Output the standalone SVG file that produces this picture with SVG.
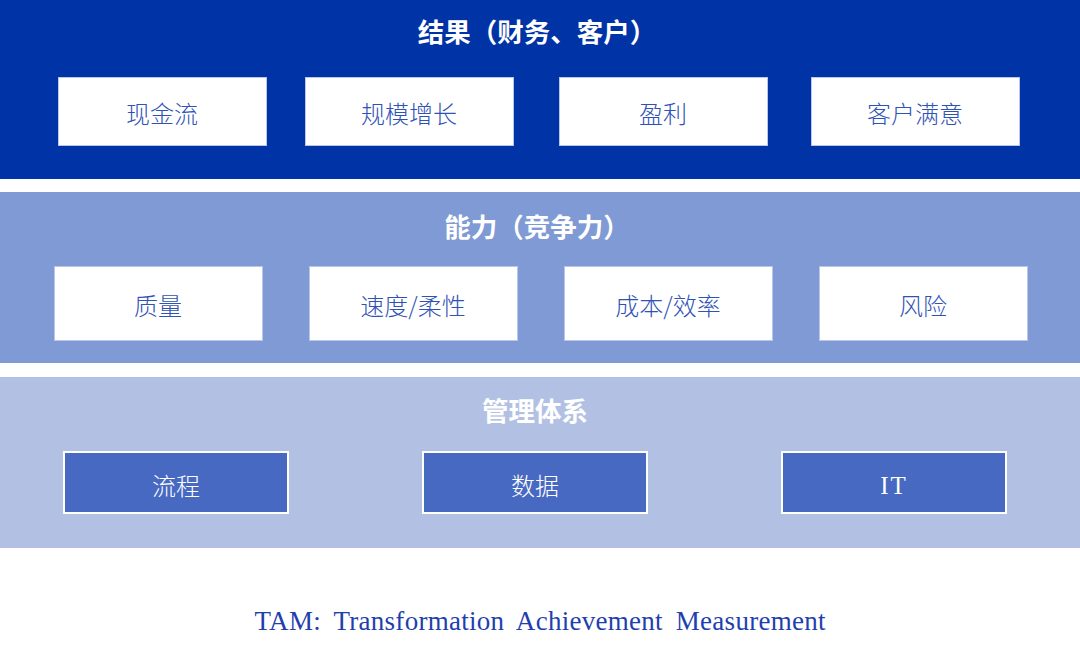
<svg xmlns="http://www.w3.org/2000/svg" width="1080" height="655" viewBox="0 0 1080 655">
<style>
.band-title{font-family:"Noto Sans CJK SC","Noto Sans",sans-serif;font-weight:bold;font-size:26.5px;fill:#ffffff;text-anchor:middle}
.wbox{fill:#ffffff;stroke:#b9c6ea;stroke-width:1}
.wtxt{font-family:"Noto Sans CJK SC","Noto Sans",sans-serif;font-weight:300;font-size:24px;fill:#2f52b5;text-anchor:middle;dominant-baseline:central}
.bbox{fill:#4769c2;stroke:#ffffff;stroke-width:2}
.btxt{font-family:"Noto Sans CJK SC","Noto Sans",sans-serif;font-weight:300;font-size:24px;fill:#ffffff;text-anchor:middle;dominant-baseline:central}
.foot{font-family:"Liberation Serif","Noto Sans CJK SC",serif;font-size:27px;fill:#1f3fae;text-anchor:middle;word-spacing:6px}
</style>
<rect width="1080" height="655" fill="#ffffff"/>
<g id="band-results">
<rect x="0" y="0" width="1080" height="179" fill="#0033a6"/>
<text class="band-title" x="537" y="42">结果（财务、客户）</text>
</g>
<g id="node-cashflow"><rect class="wbox" x="58.5" y="77.5" width="208" height="68"/><text class="wtxt" x="162" y="112">现金流</text></g>
<g id="node-growth"><rect class="wbox" x="305.5" y="77.5" width="208" height="68"/><text class="wtxt" x="409" y="112">规模增长</text></g>
<g id="node-profit"><rect class="wbox" x="559.5" y="77.5" width="208" height="68"/><text class="wtxt" x="663" y="112">盈利</text></g>
<g id="node-satisfaction"><rect class="wbox" x="811.5" y="77.5" width="208" height="68"/><text class="wtxt" x="915" y="112">客户满意</text></g>
<g id="band-capability">
<rect x="0" y="192" width="1080" height="171" fill="#7f9ad4"/>
<text class="band-title" x="537" y="237">能力（竞争力）</text>
</g>
<g id="node-quality"><rect class="wbox" x="54.5" y="266.5" width="208" height="74"/><text class="wtxt" x="158" y="304">质量</text></g>
<g id="node-speed"><rect class="wbox" x="309.5" y="266.5" width="208" height="74"/><text class="wtxt" x="413" y="304">速度/柔性</text></g>
<g id="node-cost"><rect class="wbox" x="564.5" y="266.5" width="208" height="74"/><text class="wtxt" x="668" y="304">成本/效率</text></g>
<g id="node-risk"><rect class="wbox" x="819.5" y="266.5" width="208" height="74"/><text class="wtxt" x="923" y="304">风险</text></g>
<g id="band-management">
<rect x="0" y="377" width="1080" height="171" fill="#b2c1e3"/>
<text class="band-title" x="535" y="421">管理体系</text>
</g>
<g id="node-process"><rect class="bbox" x="64" y="452" width="224" height="61"/><text class="btxt" x="176" y="484">流程</text></g>
<g id="node-data"><rect class="bbox" x="423" y="452" width="224" height="61"/><text class="btxt" x="535" y="484">数据</text></g>
<g id="node-it"><rect class="bbox" x="782" y="452" width="224" height="61"/><text class="btxt" x="894" y="485" style="font-family:'Liberation Serif',serif;font-weight:normal;font-size:25px;letter-spacing:2px">IT</text></g>
<g id="connectors"></g>
<g id="footer">
<text class="foot" x="540" y="630" textLength="571" lengthAdjust="spacing">TAM: Transformation Achievement Measurement</text>
</g>
</svg>
